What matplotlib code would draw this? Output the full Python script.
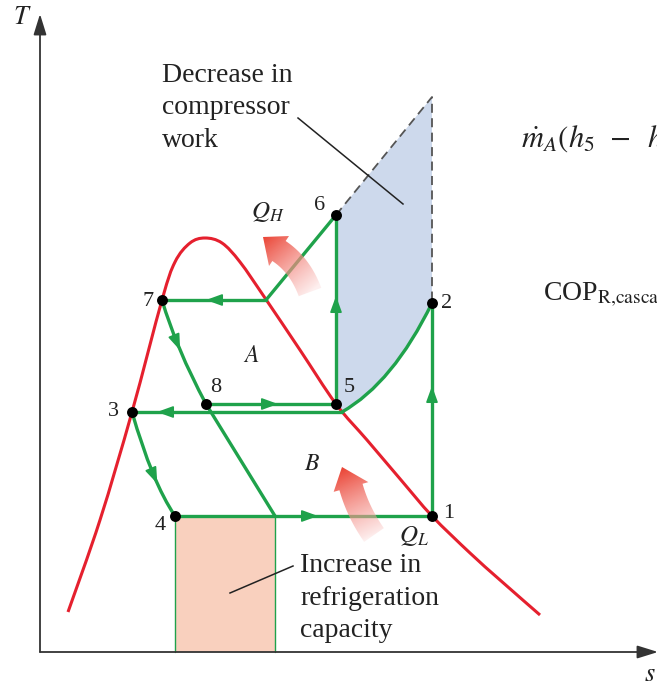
import numpy as np
import matplotlib

matplotlib.use("Agg")
import matplotlib.pyplot as plt
from matplotlib.path import Path
from matplotlib.patches import PathPatch, Polygon, Rectangle, FancyArrowPatch

# T-s diagram of a two-stage cascade refrigeration cycle (arbitrary s, T units)

# saturation dome
dome_s = [68, 100, 132, 162, 175, 190, 205, 222, 240, 265, 300, 336, 367, 401, 432, 470, 500, 540]
dome_T = [70, 162, 270, 382, 420, 439, 444, 439, 420, 384, 332, 278, 242, 202, 166, 129, 102, 67]

# state points
state_id = ["1", "2", "3", "4", "5", "6", "7", "8"]
state_s = [432, 432, 132, 175, 336, 336, 162, 206]
state_T = [166, 379, 270, 166, 278, 467, 382, 278]

# end of isentropic compression of the single-stage cycle
top_s, top_T = 432, 585
# other corners of the cycles
cond_B_s, cond_B_T = 342, 270      # where cycle B's condensation line meets the curve from 2
cond_A_s, cond_A_T = 266, 382      # cycle A desuperheating line meets the dome
throttle_end_s = 275               # throttling of the single-stage cycle reaches T_L
T_floor = 30

RED = "#e5202e"
GREEN = "#1fa24b"
BLUE_FILL = "#cdd9ec"
ORANGE_FILL = "#f9d0be"
INK = "#333333"
TEXT = "#222222"

plt.rcParams.update({
    "font.family": ["Liberation Serif", "DejaVu Serif"],
    "mathtext.fontset": "stix",
})

W, H = 657, 682
fig = plt.figure(figsize=(W / 100, H / 100), dpi=100, facecolor="white")
ax = fig.add_axes([0, 0, 1, 1])
ax.set_xlim(0, W)
ax.set_ylim(0, H)
ax.axis("off")

P = dict(zip(state_id, zip(state_s, state_T)))


def smooth_path(xs, ys):
    pts = np.column_stack([xs, ys]).astype(float)
    verts, codes = [pts[0]], [Path.MOVETO]
    n = len(pts)
    for i in range(n - 1):
        p0, p1 = pts[max(i - 1, 0)], pts[i]
        p2, p3 = pts[i + 1], pts[min(i + 2, n - 1)]
        verts += [p1 + (p2 - p0) / 6, p2 - (p3 - p1) / 6, p2]
        codes += [Path.CURVE4] * 3
    return Path(verts, codes)


def quad(p0, c, p2, t):
    p0, c, p2 = map(np.asarray, (p0, c, p2))
    return (1 - t) ** 2 * p0 + 2 * (1 - t) * t * c + t ** 2 * p2


def quad_tangent(p0, c, p2, t):
    p0, c, p2 = map(np.asarray, (p0, c, p2))
    d = 2 * (1 - t) * (c - p0) + 2 * t * (p2 - c)
    return d / np.hypot(*d)


def curve3(p0, c, p2, **kw):
    patch = PathPatch(Path([p0, c, p2], [Path.MOVETO, Path.CURVE3, Path.CURVE3]),
                      fill=False, capstyle="round", **kw)
    ax.add_patch(patch)


def seg(a, b, **kw):
    ax.plot([a[0], b[0]], [a[1], b[1]], solid_capstyle="round", **kw)


def flow_head(pt, direction):
    pt = np.asarray(pt, float)
    d = np.asarray(direction, float)
    d = d / np.hypot(*d)
    ax.add_patch(FancyArrowPatch(pt - 6 * d, pt + 6 * d,
                                 arrowstyle="-|>,head_length=0.55,head_width=0.2",
                                 mutation_scale=18, color=GREEN, lw=1.2,
                                 shrinkA=0, shrinkB=0, zorder=6))


def heat_arrow(tail, ctrl, base, tip, body_w, head_w):
    # thick curved arrow, red at the head fading out towards the tail
    t = np.linspace(0, 1, 40)
    centre = np.array([quad(tail, ctrl, base, ti) for ti in t])
    tang = np.array([quad_tangent(tail, ctrl, base, ti) for ti in t])
    normal = np.column_stack([-tang[:, 1], tang[:, 0]])
    left = centre + normal * body_w / 2
    right = centre - normal * body_w / 2
    nb = normal[-1]
    head = [base + nb * head_w / 2, np.asarray(tip, float), base - nb * head_w / 2]
    outline = np.vstack([left, head, right[::-1]])
    clip = Polygon(outline, closed=True, facecolor="none", edgecolor="none")
    ax.add_patch(clip)
    x0, y0 = outline.min(axis=0) - 2
    x1, y1 = outline.max(axis=0) + 2
    gx, gy = np.meshgrid(np.linspace(x0, x1, 120), np.linspace(y0, y1, 120))
    tail = np.asarray(tail, float)
    axis_v = np.asarray(tip, float) - tail
    frac = ((gx - tail[0]) * axis_v[0] + (gy - tail[1]) * axis_v[1]) / (axis_v @ axis_v)
    frac = np.clip(frac, 0, 1)
    img = np.zeros(gx.shape + (4,))
    img[..., 0] = 0.92 + 0.06 * (1 - frac)
    img[..., 1] = 0.26 + 0.50 * (1 - frac)
    img[..., 2] = 0.20 + 0.55 * (1 - frac)
    img[..., 3] = 0.25 + 0.75 * frac ** 0.6
    im = ax.imshow(img, extent=(x0, x1, y0, y1), origin="lower",
                   interpolation="bilinear", zorder=7, aspect="auto")
    im.set_clip_path(clip)


# shaded areas
ax.add_patch(Rectangle((P["4"][0], T_floor), throttle_end_s - P["4"][0], P["4"][1] - T_floor,
                       facecolor=ORANGE_FILL, edgecolor="none", zorder=1))
seg((P["4"][0], T_floor), P["4"], color=GREEN, lw=1.0, zorder=2)
seg((throttle_end_s, T_floor), (throttle_end_s, P["4"][1]), color=GREEN, lw=1.0, zorder=2)

ctrl_52 = (393, 299)
blue = Path([P["6"], (top_s, top_T), P["2"], ctrl_52, (cond_B_s, cond_B_T), P["5"], P["6"]],
            [Path.MOVETO, Path.LINETO, Path.LINETO, Path.CURVE3, Path.CURVE3,
             Path.LINETO, Path.CLOSEPOLY])
ax.add_patch(PathPatch(blue, facecolor=BLUE_FILL, edgecolor="none", zorder=1))

# dashed single-stage compression
ax.plot([P["6"][0], top_s, top_s], [P["6"][1], top_T, P["2"][1]],
        color="#555555", lw=1.3, ls=(0, (5, 3)), zorder=2)

# axes
ax.add_patch(FancyArrowPatch((40, T_floor), (40, 668), arrowstyle="-|>,head_length=0.9,head_width=0.28",
                             mutation_scale=14, color=INK, lw=1.3, shrinkA=0, shrinkB=0, zorder=3))
ax.add_patch(FancyArrowPatch((40, T_floor), (658, T_floor), arrowstyle="-|>,head_length=0.9,head_width=0.28",
                             mutation_scale=14, color=INK, lw=1.3, shrinkA=0, shrinkB=0, zorder=3))

# saturation dome
ax.add_patch(PathPatch(smooth_path(dome_s, dome_T), fill=False, color=RED, lw=2.2, zorder=4))

# cycle B (lower)
g = dict(color=GREEN, lw=2.4, zorder=5)
seg(P["4"], P["1"], **g)
seg(P["1"], P["2"], **g)
curve3(P["2"], ctrl_52, (cond_B_s, cond_B_T), edgecolor=GREEN, lw=2.4, zorder=5)
seg((cond_B_s, cond_B_T), P["3"], **g)
ctrl_34 = (152, 200)
curve3(P["3"], ctrl_34, P["4"], edgecolor=GREEN, lw=2.4, zorder=5)

# cycle A (upper)
seg(P["8"], P["5"], **g)
seg(P["5"], P["6"], **g)
seg(P["6"], (cond_A_s, cond_A_T), **g)
seg((cond_A_s, cond_A_T), P["7"], **g)
ctrl_78 = (176, 334)
curve3(P["7"], ctrl_78, P["8"], edgecolor=GREEN, lw=2.4, zorder=5)
seg(P["8"], (throttle_end_s, P["4"][1]), **g)

# flow direction
flow_head((312, P["4"][1]), (1, 0))
flow_head((P["1"][0], 290), (0, 1))
flow_head((163, cond_B_T), (-1, 0))
flow_head((272, P["8"][1]), (1, 0))
flow_head((P["5"][0], 380), (0, 1))
flow_head((212, P["7"][1]), (-1, 0))
flow_head(quad(P["7"], ctrl_78, P["8"], 0.45), quad_tangent(P["7"], ctrl_78, P["8"], 0.45))
flow_head(quad(P["3"], ctrl_34, P["4"], 0.55), quad_tangent(P["3"], ctrl_34, P["4"], 0.55))

# state points
ax.scatter(state_s, state_T, s=62, color="black", zorder=8, linewidths=0)

# heat transfer arrows
heat_arrow((310, 390), (300, 417), np.array([279.0, 431.0]), (263, 445), 24, 36)
heat_arrow((374, 147), (358, 170), np.array([351.0, 195.0]), (342, 215), 24, 36)

# labels
num_pos = {"1": (449, 168), "2": (447, 379), "3": (113, 270), "4": (160, 156),
           "5": (349, 294), "6": (320, 476), "7": (148, 381), "8": (216, 295)}
for k, (x, y) in num_pos.items():
    ax.text(x, y, k, fontsize=16, ha="center", va="center", color=TEXT, zorder=9)

ax.text(22, 664, "$T$", fontsize=19, ha="center", va="center", color=TEXT)
ax.text(650, 7, "$s$", fontsize=19, ha="center", va="center", color=TEXT)
ax.text(268, 470, "$Q_H$", fontsize=18, ha="center", va="center", color=TEXT, zorder=9)
ax.text(414, 146, "$Q_L$", fontsize=18, ha="center", va="center", color=TEXT, zorder=9)
ax.text(251, 326, "$A$", fontsize=17, ha="center", va="center", color=TEXT)
ax.text(312, 218, "$B$", fontsize=17, ha="center", va="center", color=TEXT)

for line, base in zip(["Decrease in", "compressor", "work"], [600, 568, 535]):
    ax.text(162, base, line, fontsize=20, ha="left", va="baseline", color=TEXT)
for line, base in zip(["Increase in", "refrigeration", "capacity"], [110, 77, 45]):
    ax.text(300, base, line, fontsize=20, ha="left", va="baseline", color=TEXT, zorder=9)

ax.plot([298, 403], [564, 478], color=TEXT, lw=1.1, zorder=9)
ax.plot([230, 293], [89, 116], color=TEXT, lw=1.1, zorder=9)

ax.text(521, 535, r"$\dot{m}_A(h_5\;\,-\;\;h_8)$", fontsize=22, ha="left", va="baseline", color=TEXT)
ax.text(543, 381, r"COP$_{\mathrm{R{,}cascade}}$", fontsize=20, ha="left", va="baseline", color=TEXT)

fig.savefig("out.png", dpi=100, facecolor="white")
